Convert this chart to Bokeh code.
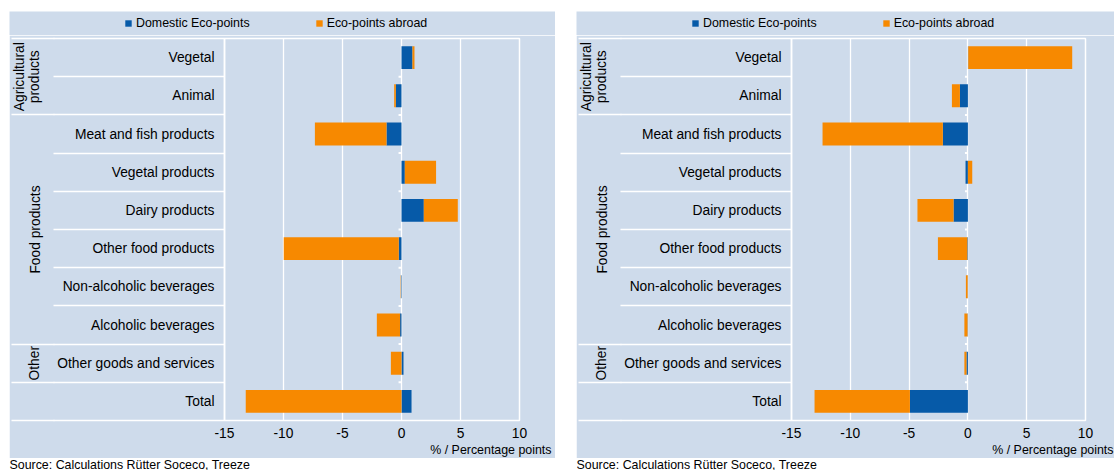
import numpy as np
from bokeh.plotting import figure
from bokeh.models import (Range1d, LinearAxis, FixedTicker, Legend, LegendItem,
                          Title, Spacer, ColumnDataSource, Grid)
from bokeh.layouts import row, column
from bokeh.embed import file_html
from bokeh.resources import INLINE
from bokeh.core.properties import value

# ---------------- data ----------------
categories = ["Vegetal", "Animal", "Meat and fish products", "Vegetal products",
              "Dairy products", "Other food products", "Non-alcoholic beverages",
              "Alcoholic beverages", "Other goods and services", "Total"]
group_labels = ["Agricultural\nproducts", "\nFood products", "\nOther", ""]
group_sizes = [2, 6, 1, 1]

domestic_left = [0.93, -0.48, -1.27, 0.28, 1.89, -0.23, -0.04, -0.12, 0.17, 0.85]
abroad_left = [0.17, -0.14, -6.07, 2.65, 2.88, -9.75, -0.03, -1.97, -0.90, -13.20]

domestic_right = [0.03, -0.68, -2.13, -0.20, -1.22, -0.05, -0.02, -0.03, -0.12, -4.93]
abroad_right = [8.84, -0.68, -10.23, 0.37, -3.07, -2.50, -0.15, -0.27, -0.18, -8.11]

x_ticks = [-15, -10, -5, 0, 5, 10]
series_names = ["Domestic Eco-points", "Eco-points abroad"]
source_text = "Source: Calculations R\u00fctter Soceco, Treeze"
axis_title = "% / Percentage points"

# ---------------- style ----------------
BLUE = "#065AA8"
ORANGE = "#F78900"
BG = "#CEDBEB"
FONT = "Liberation Sans"
BIG = "13.8px"
SMALL = "12.4px"
LEG_H = 24
TOP = 3
FRAME_H = 382
BOTTOM = 38
FIG_H = TOP + FRAME_H + BOTTOM
SRC_H = 12
INNER_TICK = 171
OUTER_TICK = 43
GROUP_STANDOFF = 12


def make_legend_fig(width, legend_x):
    f = figure(width=width, height=LEG_H, x_range=Range1d(0, 1), y_range=Range1d(0, 1),
               output_backend="svg", toolbar_location=None, min_border=0,
               x_axis_type=None, y_axis_type=None)
    f.outline_line_color = None
    f.background_fill_color = BG
    f.border_fill_color = BG
    r1 = f.scatter(x=[np.nan], y=[np.nan], marker="square", fill_color=BLUE,
                   line_color=None)
    r2 = f.scatter(x=[np.nan], y=[np.nan], marker="square", fill_color=ORANGE,
                   line_color=None)
    legend = Legend(items=[LegendItem(label=series_names[0], renderers=[r1]),
                           LegendItem(label=series_names[1], renderers=[r2])],
                    location=(legend_x, 4), orientation="horizontal",
                    glyph_width=16, glyph_height=16, label_standoff=-2, spacing=61,
                    padding=0, margin=0, border_line_color=None,
                    background_fill_alpha=0, label_height=16,
                    label_text_font=FONT, label_text_font_size=SMALL,
                    label_text_color="black")
    f.add_layout(legend, "center")
    return f


def make_panel(dom, abr, width, border_left, border_right, title_offset):
    n = len(categories)
    y = np.arange(n) + 0.5
    dom = np.asarray(dom, dtype=float)
    abr = np.asarray(abr, dtype=float)
    base = np.where(np.sign(abr) == np.sign(dom), dom, 0.0)

    p = figure(width=width, height=FIG_H, x_range=Range1d(-15, 10),
               y_range=Range1d(n, 0), output_backend="svg", toolbar_location=None,
               x_axis_type=None, y_axis_type=None,
               min_border_left=border_left, min_border_right=border_right,
               min_border_top=TOP, min_border_bottom=BOTTOM)
    p.background_fill_color = BG
    p.border_fill_color = BG
    p.outline_line_color = "white"
    p.outline_line_width = 1.5

    xt = FixedTicker(ticks=x_ticks)
    xb = LinearAxis(ticker=xt, major_tick_out=0, major_tick_in=0, minor_tick_out=0,
                    axis_line_color=None, major_label_standoff=7,
                    major_label_overrides={t: str(t) for t in x_ticks},
                    major_label_text_font=FONT, major_label_text_font_size=BIG,
                    major_label_text_color="black")
    p.add_layout(xb, "below")
    p.add_layout(Title(text=axis_title, align="right", offset=title_offset,
                       standoff=0, text_font=FONT, text_font_size=SMALL,
                       text_font_style="normal", text_color="black"), "below")
    p.add_layout(Grid(dimension=0, ticker=xt, grid_line_color="white",
                      grid_line_width=1.3))

    bounds = list(range(n + 1))
    ya = LinearAxis(ticker=FixedTicker(ticks=list(y), minor_ticks=bounds),
                    major_label_overrides={float(v): c for v, c in zip(y, categories)},
                    major_tick_out=0, major_tick_in=0, minor_tick_in=0,
                    minor_tick_out=INNER_TICK, minor_tick_line_color="white",
                    minor_tick_line_width=1.5, axis_line_color="white",
                    axis_line_width=1.5, major_label_standoff=10 - INNER_TICK,
                    major_label_text_font=FONT, major_label_text_font_size=BIG,
                    major_label_text_color="black")
    p.add_layout(ya, "left")

    gb = np.concatenate([[0], np.cumsum(group_sizes)])
    gc = (gb[:-1] + gb[1:]) / 2
    g_ticks = [float(c) for c, g in zip(gc, group_labels) if g]
    g_over = {float(c): g for c, g in zip(gc, group_labels) if g}
    yb = LinearAxis(ticker=FixedTicker(ticks=g_ticks, minor_ticks=[float(b) for b in gb]),
                    major_label_overrides=g_over, major_label_orientation="vertical",
                    major_tick_out=0, major_tick_in=0, minor_tick_in=0,
                    minor_tick_out=OUTER_TICK, minor_tick_line_color="white",
                    minor_tick_line_width=1.5, axis_line_color=None,
                    major_label_standoff=GROUP_STANDOFF - OUTER_TICK,
                    major_label_text_font=FONT, major_label_text_font_size=BIG,
                    major_label_text_color="black", major_label_text_line_height=1.0)
    p.add_layout(yb, "left")

    # small ticks on the zero line
    inner = np.array(bounds[1:-1], dtype=float)
    p.segment(x0=0, x1=-0.25, y0=inner, y1=inner, line_color="white", line_width=2)

    src = ColumnDataSource(dict(y=y, dom=dom, base=base, end=base + abr))
    p.hbar(y="y", left=0, right="dom", height=0.6, fill_color=BLUE,
           line_color=None, source=src)
    p.hbar(y="y", left="base", right="end", height=0.6, fill_color=ORANGE,
           line_color=None, source=src)
    return p


def make_source(width):
    s = figure(width=width, height=SRC_H, x_range=Range1d(0, 1), y_range=Range1d(0, 1),
               output_backend="svg", toolbar_location=None, min_border=0,
               x_axis_type=None, y_axis_type=None)
    s.outline_line_color = None
    s.background_fill_color = "white"
    s.border_fill_color = "white"
    s.text(x=[0.0], y=[0.5], text=[source_text], text_font=value(FONT),
           text_font_size=SMALL, text_baseline="middle", text_color="black")
    return s


W1, W2, GAP = 546, 538, 21
TOTAL_W = 9 + W1 + GAP + W2

legend_row = row(Spacer(width=9, height=LEG_H), make_legend_fig(W1, 111),
                 Spacer(width=GAP, height=LEG_H), make_legend_fig(W2, 111))
panel_row = row(Spacer(width=9, height=FIG_H),
                make_panel(domestic_left, abroad_left, W1, 215, W1 - 215 - 295, -32),
                Spacer(width=GAP, height=FIG_H),
                make_panel(domestic_right, abroad_right, W2, 214, W2 - 214 - 295, -28))
source_row = row(Spacer(width=9, height=SRC_H), make_source(W1),
                 Spacer(width=GAP, height=SRC_H), make_source(W2))

layout = column(Spacer(width=TOTAL_W, height=11), legend_row, panel_row, source_row)

open("out.html", "w").write(file_html(layout, INLINE))
